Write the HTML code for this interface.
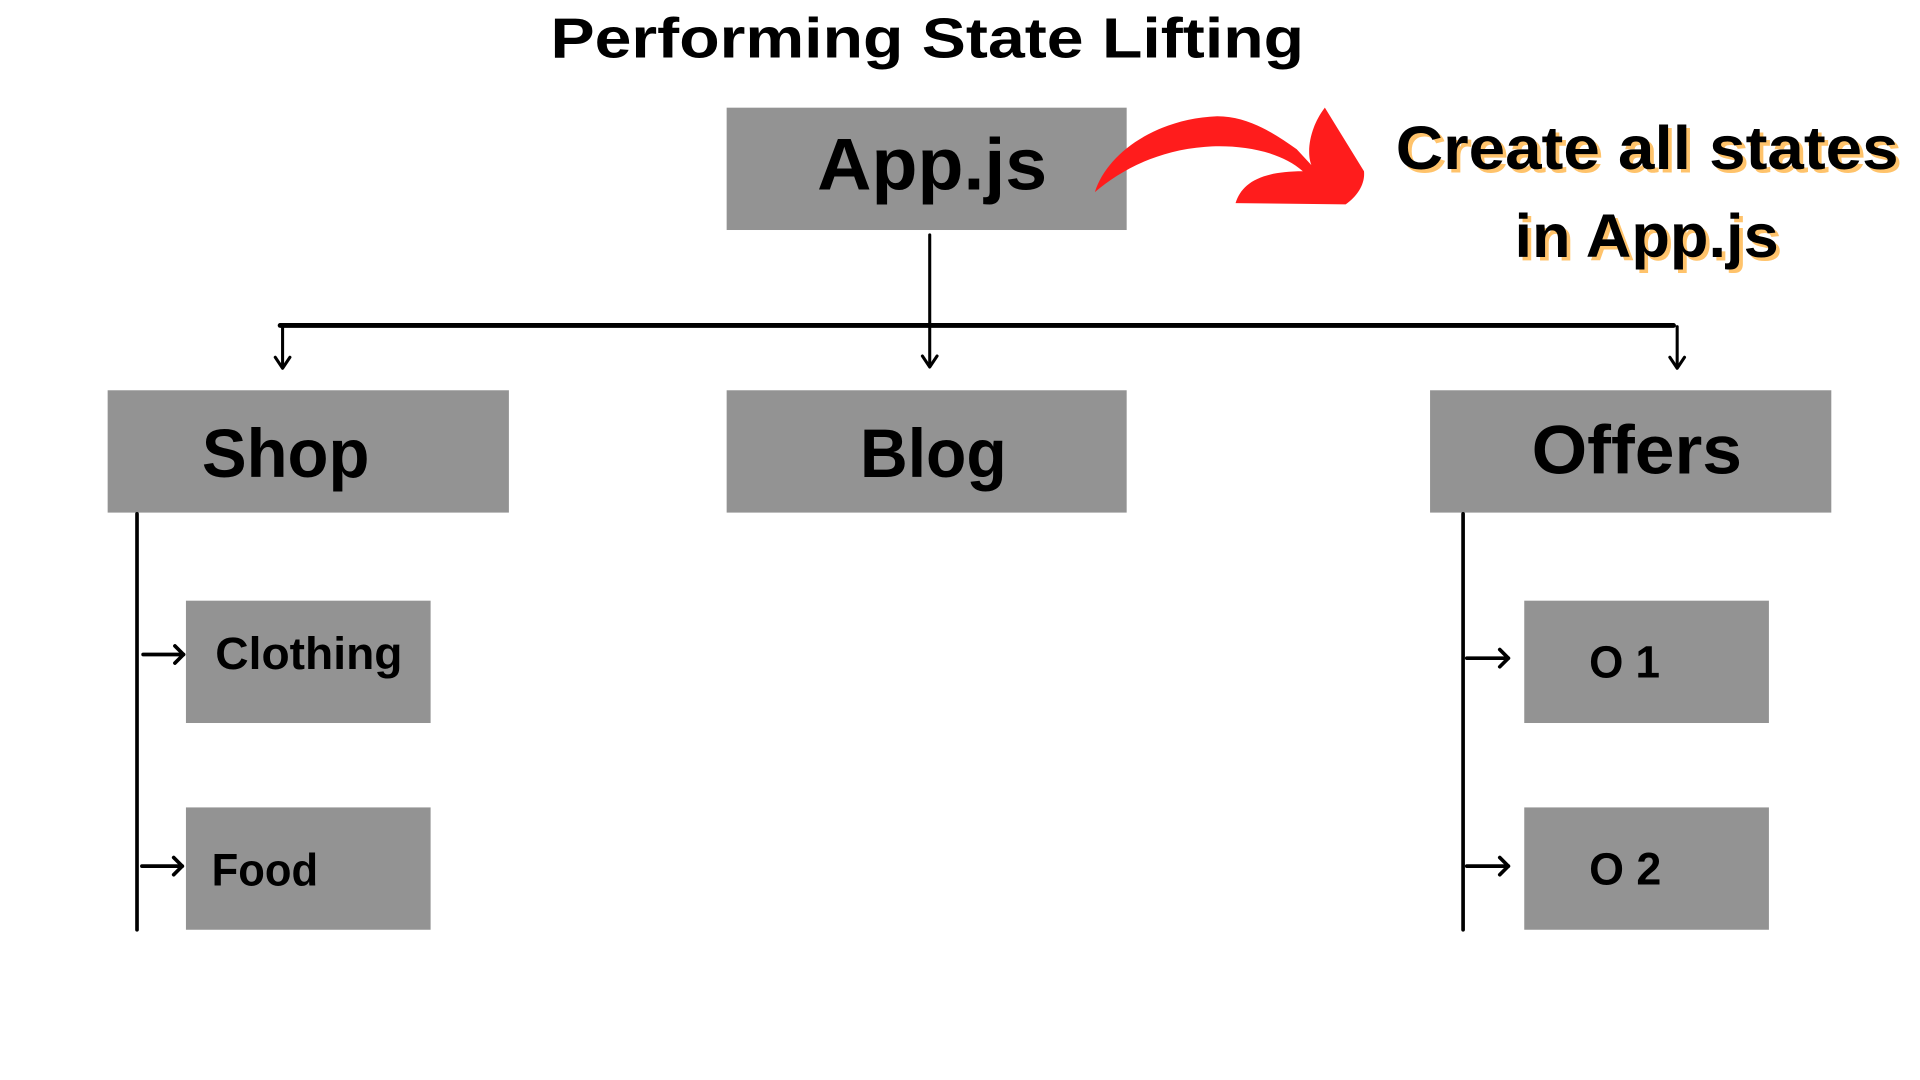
<!DOCTYPE html>
<html><head><meta charset="utf-8"><style>
html,body{margin:0;padding:0;background:#fff;width:1920px;height:1080px;overflow:hidden}
svg{display:block}
text{font-family:"Liberation Sans",sans-serif;font-weight:bold;fill:#000}
</style></head><body>
<svg width="1920" height="1080" viewBox="0 0 1569.5 882.8" xmlns="http://www.w3.org/2000/svg">
<rect width="1570" height="883" fill="#fff"/>
<text x="758" y="47" font-size="46" text-anchor="middle" textLength="616" lengthAdjust="spacingAndGlyphs">Performing State Lifting</text>
<g fill="#939393">
<rect x="594" y="88" width="327" height="100"/>
<rect x="88" y="319" width="328" height="100"/>
<rect x="594" y="319" width="327" height="100"/>
<rect x="1169" y="319" width="328" height="100"/>
<rect x="152" y="491" width="200" height="100"/>
<rect x="152" y="660" width="200" height="100"/>
<rect x="1246" y="491" width="200" height="100"/>
<rect x="1246" y="660" width="200" height="100"/>
</g>
<text x="668" y="155" font-size="60" textLength="188" lengthAdjust="spacingAndGlyphs">App.js</text>
<text x="165" y="390" font-size="56" textLength="137" lengthAdjust="spacingAndGlyphs">Shop</text>
<text x="703" y="390" font-size="56" textLength="120" lengthAdjust="spacingAndGlyphs">Blog</text>
<text x="1252" y="387" font-size="56" textLength="172" lengthAdjust="spacingAndGlyphs">Offers</text>
<text x="176" y="547" font-size="37" textLength="153" lengthAdjust="spacingAndGlyphs">Clothing</text>
<text x="173" y="724" font-size="37" textLength="87" lengthAdjust="spacingAndGlyphs">Food</text>
<text x="1299" y="554" font-size="37" textLength="58" lengthAdjust="spacingAndGlyphs">O 1</text>
<text x="1299" y="723" font-size="37" textLength="59" lengthAdjust="spacingAndGlyphs">O 2</text>
<g stroke="#000" fill="none" stroke-linecap="round" stroke-linejoin="round">
<line x1="760" y1="192" x2="760" y2="299" stroke-width="2.5"/>
<line x1="229" y1="266" x2="1368" y2="266" stroke-width="4"/>
<line x1="231" y1="267" x2="231" y2="300" stroke-width="2.5"/>
<line x1="1371" y1="267" x2="1371" y2="300" stroke-width="2.5"/>
<polyline points="225,292 231,301 237,292" stroke-width="2.5"/>
<polyline points="754,291 760,300 766,291" stroke-width="2.5"/>
<polyline points="1365,292 1371,301 1377,292" stroke-width="2.5"/>
<line x1="112" y1="420" x2="112" y2="760" stroke-width="3"/>
<line x1="1196" y1="420" x2="1196" y2="760" stroke-width="3"/>
<line x1="117" y1="535" x2="150" y2="535" stroke-width="3"/>
<polyline points="143,528 150,535 143,542" stroke-width="3"/>
<line x1="116" y1="708" x2="149" y2="708" stroke-width="3"/>
<polyline points="142,701 149,708 142,715" stroke-width="3"/>
<line x1="1199" y1="538" x2="1233" y2="538" stroke-width="3"/>
<polyline points="1226,531 1233,538 1226,545" stroke-width="3"/>
<line x1="1199" y1="708" x2="1233" y2="708" stroke-width="3"/>
<polyline points="1226,701 1233,708 1226,715" stroke-width="3"/>
</g>
<path d="M895,157 C905,125 945,97 995,95 C1020,95 1040,108 1060,122 L1072,135 C1068,125 1070,105 1083,88 L1115,140 C1116,150 1110,160 1100,167 L1010,166 C1015,150 1030,140 1065,140 C1045,122 1010,118 985,120 C945,123 915,140 895,157 Z" fill="#ff1c1c"/>
<g font-size="50">
<text x="1144" y="141" style="fill:#ffc36b" textLength="411" lengthAdjust="spacingAndGlyphs">Create all states</text>
<text x="1141" y="138" textLength="411" lengthAdjust="spacingAndGlyphs">Create all states</text>
<text x="1241" y="213" style="fill:#ffc36b" textLength="216" lengthAdjust="spacingAndGlyphs">in App.js</text>
<text x="1238" y="210" textLength="216" lengthAdjust="spacingAndGlyphs">in App.js</text>
</g>
</svg>
</body></html>
